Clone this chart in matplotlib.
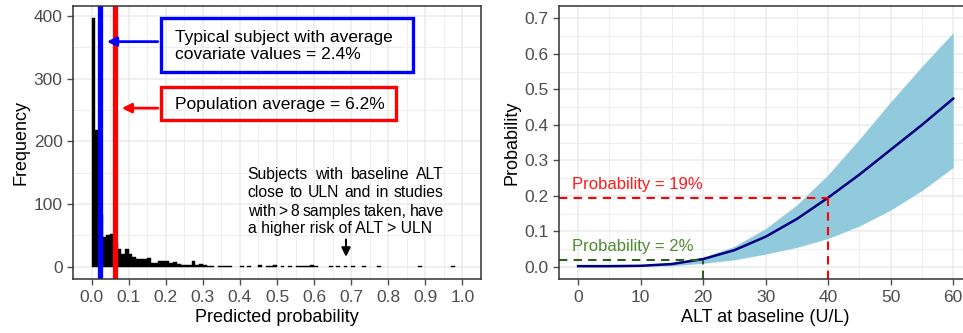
import numpy as np
import matplotlib.pyplot as plt
from matplotlib.patches import Rectangle
from matplotlib.ticker import MultipleLocator

plt.rcParams['font.family'] = ['Liberation Sans', 'DejaVu Sans']

# ---- left panel: histogram of predicted probability (bin width 0.01) ----
bin_width = 0.01
bin_index = [0, 1, 2, 3, 4, 5, 6, 7, 8, 9, 10, 11, 12, 13, 14, 15, 16, 17, 18, 19,
             20, 21, 22, 23, 24, 25, 26, 27, 28, 29, 30, 31, 32, 34, 35, 36, 37,
             40, 42, 45, 47, 48, 49, 51, 53, 55, 56, 57, 58, 59, 60,
             64, 66, 68, 70, 73, 77, 88, 97]
bin_count = [396, 218, 82, 48, 50, 52, 38, 28, 20, 28, 21, 16, 12, 13, 13, 14, 6, 6, 10, 10,
             10, 6, 8, 4, 3, 3, 3, 10, 3, 4, 3, 2, 2, 2, 2, 2, 2,
             2, 1, 3, 2, 2, 3, 1, 2, 2, 2, 2, 2, 3, 2,
             2, 2, 2, 2, 2, 2, 2, 2]
typical_prob = 0.024
population_prob = 0.062

# ---- right panel: probability vs ALT at baseline ----
alt = [0, 5, 10, 15, 20, 25, 30, 35, 40, 45, 50, 55, 60]
prob_mean = [0.002, 0.002, 0.003, 0.008, 0.022, 0.047, 0.085, 0.135, 0.195, 0.26, 0.33, 0.40, 0.474]
prob_low = [0.0, 0.0, 0.001, 0.003, 0.01, 0.02, 0.036, 0.055, 0.08, 0.115, 0.16, 0.215, 0.28]
prob_high = [0.002, 0.003, 0.005, 0.012, 0.027, 0.058, 0.108, 0.175, 0.26, 0.36, 0.465, 0.565, 0.66]
alt_marks = [20, 40]
prob_marks = [0.02, 0.193]

GRID = '#EBEBEB'
TICKC = '#4D4D4D'


def style_axes(ax):
    ax.set_facecolor('white')
    ax.grid(True, which='major', color=GRID, lw=1.1)
    ax.grid(True, which='minor', color=GRID, lw=0.6)
    ax.set_axisbelow(True)
    for s in ax.spines.values():
        s.set_color('#333333')
        s.set_linewidth(1.1)
    ax.tick_params(which='major', colors=TICKC, labelsize=12.5, length=4, width=1, labelcolor=TICKC)
    ax.tick_params(which='minor', length=0)


def justified(ax, words, x0, x1, y, size):
    # place words so the line fills x0..x1 (data coords)
    fig = ax.figure
    fig.canvas.draw()
    r = fig.canvas.get_renderer()
    arts = [ax.text(0, y, w, fontsize=size, va='center', ha='left') for w in words]
    inv = ax.transData.inverted()
    widths = []
    for a in arts:
        bb = a.get_window_extent(renderer=r)
        p0 = inv.transform((bb.x0, bb.y0))
        p1 = inv.transform((bb.x1, bb.y0))
        widths.append(p1[0] - p0[0])
    gap = (x1 - x0 - sum(widths)) / max(len(words) - 1, 1)
    x = x0
    for a, w in zip(arts, widths):
        a.set_x(x)
        x += w + gap


fig = plt.figure(figsize=(9.63, 3.33), dpi=100)
ax1 = fig.add_axes([0.0758, 0.1613, 0.4237, 0.8207])
ax2 = fig.add_axes([0.5808, 0.1613, 0.4285, 0.8207])

# left panel
style_axes(ax1)
lefts = [i * bin_width for i in bin_index]
ax1.bar(lefts, bin_count, width=bin_width, align='edge', color='black', edgecolor='black', lw=0.3)
ax1.axvline(typical_prob, color='#0000FF', lw=3.8)
ax1.axvline(population_prob, color='#FF0000', lw=3.8)
ax1.set_xlim(-0.05, 1.05)
ax1.set_ylim(-19.8, 415.8)
ax1.xaxis.set_major_locator(MultipleLocator(0.1))
ax1.xaxis.set_minor_locator(MultipleLocator(0.05))
ax1.yaxis.set_major_locator(MultipleLocator(100))
ax1.yaxis.set_minor_locator(MultipleLocator(50))
ax1.xaxis.set_major_formatter(plt.FuncFormatter(lambda v, p: f'{v:.1f}'))
ax1.set_xlabel('Predicted probability', fontsize=13, labelpad=3)
ax1.set_ylabel('Frequency', fontsize=13, labelpad=3)

# annotation boxes
ax1.add_patch(Rectangle((0.186, 310), 0.681, 86.8, fill=False, ec='#0000FF', lw=2.4, zorder=5))
ax1.text(0.224, 352, 'Typical subject with average\ncovariate values = 2.4%', fontsize=12.5,
         va='center', ha='left', linespacing=1.2, zorder=6)
ax1.annotate('', xy=(0.034, 359), xytext=(0.186, 359),
             arrowprops=dict(arrowstyle='-|>', color='#0000FF', lw=2, mutation_scale=14), zorder=5)
ax1.add_patch(Rectangle((0.186, 233.6), 0.635, 52.6, fill=False, ec='#FF0000', lw=2.4, zorder=5))
ax1.text(0.224, 259, 'Population average = 6.2%', fontsize=12.5, va='center', ha='left', zorder=6)
ax1.annotate('', xy=(0.074, 253), xytext=(0.186, 253),
             arrowprops=dict(arrowstyle='-|>', color='#FF0000', lw=2, mutation_scale=14), zorder=5)

note = ['Subjects with baseline ALT', 'close to ULN and in studies',
        'with > 8 samples taken, have', 'a higher risk of ALT > ULN']
note_y = [147, 118, 88.6, 60.5]
for line, y in zip(note[:3], note_y[:3]):
    justified(ax1, line.split(), 0.421, 0.95, y, 11.3)
ax1.text(0.421, note_y[3], note[3], fontsize=11.3, va='center', ha='left')
ax1.annotate('', xy=(0.686, 11.6), xytext=(0.686, 48),
             arrowprops=dict(arrowstyle='-|>', color='black', lw=1.5, mutation_scale=13))

# right panel
style_axes(ax2)
ax2.fill_between(alt, prob_low, prob_high, color='#92CADD', lw=0)
ax2.plot(alt, prob_mean, color='#000080', lw=1.8)
ax2.set_xlim(-3, 63)
ax2.set_ylim(-0.035, 0.735)
ax2.xaxis.set_major_locator(MultipleLocator(10))
ax2.xaxis.set_minor_locator(MultipleLocator(5))
ax2.yaxis.set_major_locator(MultipleLocator(0.1))
ax2.yaxis.set_minor_locator(MultipleLocator(0.05))
ax2.yaxis.set_major_formatter(plt.FuncFormatter(lambda v, p: f'{v:.1f}'))
ax2.set_xlabel('ALT at baseline (U/L)', fontsize=13, labelpad=3)
ax2.set_ylabel('Probability', fontsize=13, labelpad=3)

dash_cols = ['#2D5E1E', '#FF0000']
for xa, pa, c in zip(alt_marks, prob_marks, dash_cols):
    ax2.plot([-3, xa], [pa, pa], color=c, lw=1.5, ls=(0, (4, 3)))
    ax2.plot([xa, xa], [-0.035, pa], color=c, lw=1.5, ls=(0, (4, 3)))
ax2.text(-0.9, 0.232, 'Probability = 19%', color='#FF1A1A', fontsize=12, va='center', ha='left')
ax2.text(-0.9, 0.056, 'Probability = 2%', color='#4F8A2E', fontsize=12, va='center', ha='left')

fig.savefig('out.png', dpi=100)
